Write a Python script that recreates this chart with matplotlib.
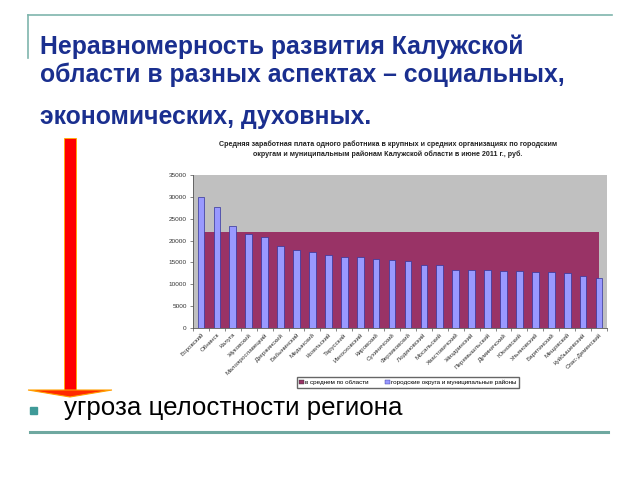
import matplotlib
matplotlib.use("Agg")
import matplotlib.pyplot as plt
from matplotlib.lines import Line2D
from matplotlib.patches import Polygon, Rectangle, Patch
import numpy as np

plt.rcParams['font.family'] = ['Liberation Sans', 'DejaVu Sans']

districts = ["Боровский", "Обнинск", "Калуга", "Жуковский", "Малоярославецкий",
             "Дзержинский", "Бабынинский", "Медынский", "Козельский", "Тарусский",
             "Износковский", "Кировский", "Сухиничский", "Ферзиковский", "Людиновский",
             "Мосальский", "Хвастовичский", "Жиздринский", "Перемышльский", "Думиничский",
             "Юхновский", "Ульяновский", "Барятинский", "Мещовский", "Куйбышевский",
             "Спас-Деменский"]
wages = [29900, 27700, 23300, 21400, 20900, 18800, 17900, 17400, 16800, 16300,
         16300, 15700, 15500, 15300, 14500, 14400, 13300, 13300, 13200, 13100,
         13000, 12900, 12700, 12600, 11950, 11500]
region_avg = [22000, 22000, 22000, 22000, 22000, 22000, 22000, 22000, 22000,
              22000, 22000, 22000, 22000, 22000, 22000, 22000, 22000, 22000,
              22000, 22000, 22000, 22000, 22000, 22000, 22000, 22000]
y_ticks = [0, 5000, 10000, 15000, 20000, 25000, 30000, 35000]
series_names = ["в среднем по области", "городские округа и муниципальные районы"]
chart_title = ("Средняя заработная плата одного работника в крупных и средних организациях по городским\n"
               "округам и муниципальным районам Калужской области в июне 2011 г., руб.")
slide_title = ["Неравномерность развития Калужской", "области в разных аспектах – социальных,",
               "экономических, духовных."]
bullet_text = "угроза целостности региона"

fig = plt.figure(figsize=(6.4, 4.8), dpi=100)
fig.patch.set_facecolor("white")

teal = "#7fb5ad"
# slide decorations
fig.add_artist(Line2D([28/640, 612/640], [1-15/480, 1-15/480], color=teal, lw=1.2))
fig.add_artist(Line2D([28/640, 28/640], [1-15/480, 1-58/480], color=teal, lw=1.2))
fig.add_artist(Line2D([30/640, 608/640], [1-432/480, 1-432/480], color="#6fa8a0", lw=2.2))

navy = "#1a2f8f"
for t, y in zip(slide_title, [47, 75, 117]):
    fig.text(40/640, 1-y/480, t, color=navy, fontsize=17.8, fontweight="bold",
             va="center", ha="left")

# bullet
fig.add_artist(Rectangle((30/640, 1-414/480), 7/640, 7/480, transform=fig.transFigure,
                         color="#3f9a98"))
fig.text(64/640, 1-408/480, bullet_text, fontsize=18.6, color="black", va="center", ha="left")

# red arrow
shaft = Rectangle((64/640, 1-392/480), 12/640, (392-138)/480, transform=fig.transFigure,
                  facecolor="#ff0000", edgecolor="#ffb000", lw=0.6)
fig.add_artist(shaft)
head = Polygon([(28/640, 1-390/480), (112/640, 1-390/480), (70/640, 1-397/480)],
               closed=True, transform=fig.transFigure, facecolor="#ff2a00",
               edgecolor="#ffa000", lw=0.8)
fig.add_artist(head)

# chart
ax = fig.add_axes([193/640, 1-328/480, (607-193)/640, (328-175)/480])
ax.set_facecolor("#c0c0c0")
idx = np.arange(len(districts))
ax.fill_between(idx, 0, region_avg, color="#993366", zorder=1, lw=0)
ax.bar(idx, wages, width=0.42, color="#9999ff", edgecolor="#333399", lw=0.5, zorder=2)
ax.set_xlim(-0.5, len(districts) - 0.5)
ax.set_ylim(0, 35000)
ax.set_yticks(y_ticks)
ax.set_yticklabels([str(v) for v in y_ticks], fontsize=4.6, color="#333333")
ax.set_xticks(idx)
ax.set_xticklabels(districts, rotation=45, ha="right", rotation_mode="anchor",
                   fontsize=4.5, color="#333333")
ax.set_xticks(np.arange(len(districts) + 1) - 0.5, minor=True)
ax.tick_params(axis="x", which="major", length=0, pad=3)
ax.tick_params(axis="x", which="minor", length=2.5, width=0.5, color="#555555")
ax.tick_params(axis="y", length=2.5, width=0.5, color="#555555", pad=2)
for s in ["top", "right"]:
    ax.spines[s].set_visible(False)
for s in ["left", "bottom"]:
    ax.spines[s].set_color("#555555")
    ax.spines[s].set_linewidth(0.6)

fig.text(388/640, 1-149/480, chart_title, fontsize=5.1, fontweight="bold",
         ha="center", va="center", color="#222222", linespacing=1.5)

handles = [Patch(facecolor="#993366", edgecolor="#333333", lw=0.3),
           Patch(facecolor="#9999ff", edgecolor="#333399", lw=0.3)]
fig.legend(handles, series_names, loc="center", bbox_to_anchor=(408/640, 1-382.5/480),
           ncol=2, fontsize=4.5, frameon=True, fancybox=False, edgecolor="#666666",
           handlelength=0.7, handleheight=0.7, handletextpad=0.3, columnspacing=2.6,
           borderpad=0.4, framealpha=1)

fig.savefig("out.png", dpi=100, facecolor="white")
